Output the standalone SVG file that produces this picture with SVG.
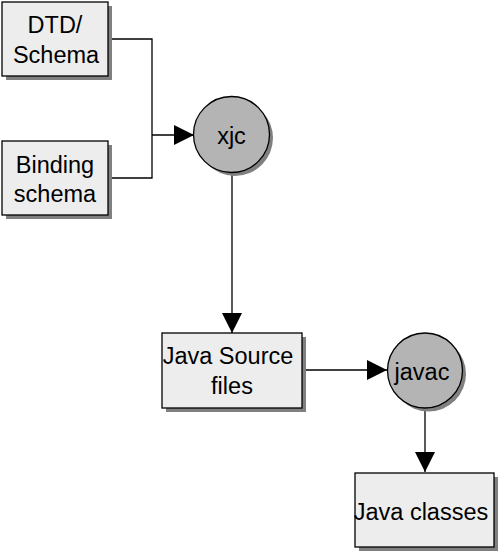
<svg xmlns="http://www.w3.org/2000/svg" width="500" height="553" viewBox="0 0 500 553">
<style>
.box{fill:#ededed;stroke:#000;stroke-width:1.3}
.circ{fill:#b4b4b4;stroke:#000;stroke-width:1.3}
.shadow{fill:#808080}
.lbl{font-family:"Liberation Sans",Arial,Helvetica,sans-serif;font-size:23.5px;fill:#000;text-anchor:middle}
.conn{fill:none;stroke:#000;stroke-width:1.3}
</style>
<defs>
<marker id="arr" viewBox="0 0 20 20" refX="20" refY="10" markerWidth="20" markerHeight="20" markerUnits="userSpaceOnUse" orient="auto">
<path d="M0,0 L20,10 L0,20 Z" fill="#000"/>
</marker>
</defs>
<rect width="500" height="553" fill="#fff"/>
<g id="connectors">
<polyline class="conn" points="108,39 152,39 152,178 108,178"/>
<line class="conn" x1="152" y1="135" x2="194" y2="135" marker-end="url(#arr)"/>
<line class="conn" x1="232" y1="173" x2="232" y2="333" marker-end="url(#arr)"/>
<line class="conn" x1="302" y1="370" x2="387" y2="370" marker-end="url(#arr)"/>
<line class="conn" x1="425" y1="408" x2="425" y2="472" marker-end="url(#arr)"/>
</g>
<g id="dtd-schema">
<rect class="shadow" x="6" y="6" width="106" height="74"/>
<rect class="box" x="2" y="2" width="106" height="74"/>
<text class="lbl" x="55" y="33">DTD/</text>
<text class="lbl" x="56" y="63">Schema</text>
</g>
<g id="binding-schema">
<rect class="shadow" x="6" y="145" width="106" height="74"/>
<rect class="box" x="2" y="141" width="106" height="74"/>
<text class="lbl" x="55" y="173">Binding</text>
<text class="lbl" x="55" y="202">schema</text>
</g>
<g id="xjc">
<circle class="shadow" cx="235" cy="138" r="38"/>
<circle class="circ" cx="231.5" cy="134.5" r="38"/>
<text class="lbl" x="231.5" y="144">xjc</text>
</g>
<g id="java-source">
<rect class="shadow" x="166" y="337" width="140" height="75"/>
<rect class="box" x="162" y="333" width="140" height="75"/>
<text class="lbl" x="228" y="364">Java Source</text>
<text class="lbl" x="232" y="394">files</text>
</g>
<g id="javac">
<circle class="shadow" cx="428.5" cy="374" r="37.5"/>
<circle class="circ" cx="425" cy="370.5" r="37.5"/>
<text class="lbl" x="422" y="380">javac</text>
</g>
<g id="java-classes">
<rect class="shadow" x="359" y="477" width="139" height="74"/>
<rect class="box" x="355" y="473" width="139" height="74"/>
<text class="lbl" x="421" y="520">Java classes</text>
</g>
</svg>
